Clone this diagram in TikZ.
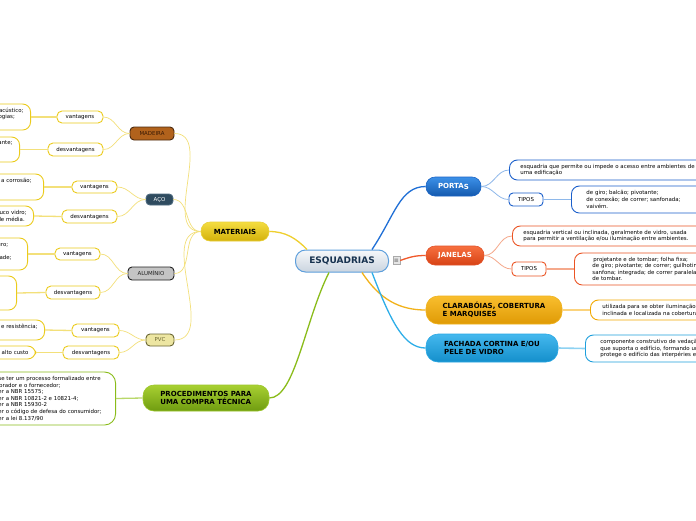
\documentclass[tikz,border=0pt]{standalone}
\usepackage{fontspec}
\setmainfont{DejaVu Sans}
\usetikzlibrary{calc}
\definecolor{ylw}{HTML}{EBCB1C}
\definecolor{ylwline}{HTML}{F3E07A}
\definecolor{blu}{HTML}{1A5FCB}
\definecolor{bluline}{HTML}{8EB8EA}
\definecolor{red}{HTML}{EB5424}
\definecolor{redline}{HTML}{F5A98C}
\definecolor{org}{HTML}{F2A900}
\definecolor{orgline}{HTML}{FBD37C}
\definecolor{cya}{HTML}{1E9FDC}
\definecolor{cyaline}{HTML}{8ED2F2}
\definecolor{grn}{HTML}{8ABC1A}
\definecolor{grnline}{HTML}{B9D86A}
\definecolor{navy}{HTML}{17324F}
\definecolor{cenbd}{HTML}{5E9FDC}
\definecolor{centop}{HTML}{F6F8FA}
\definecolor{cenbot}{HTML}{CAD4DF}
\definecolor{icobd}{HTML}{AAAAAA}
\definecolor{icofill}{HTML}{E6E6E6}
\definecolor{icotxt}{HTML}{555555}
\definecolor{matbd}{HTML}{E9D03A}
\definecolor{mattop}{HTML}{F4DD40}
\definecolor{matbot}{HTML}{D4B10B}
\definecolor{procbd}{HTML}{9CC62A}
\definecolor{proctop}{HTML}{A8D032}
\definecolor{procbot}{HTML}{6F9C10}
\definecolor{porbd}{HTML}{1A63C4}
\definecolor{portop}{HTML}{3C91E8}
\definecolor{porbot}{HTML}{1459AE}
\definecolor{janbd}{HTML}{E2522A}
\definecolor{jantop}{HTML}{F7703F}
\definecolor{janbot}{HTML}{D74215}
\definecolor{clabd}{HTML}{EFB21C}
\definecolor{clatop}{HTML}{F9BE2E}
\definecolor{clabot}{HTML}{DF9A05}
\definecolor{facbd}{HTML}{2AA8E4}
\definecolor{factop}{HTML}{44B8EE}
\definecolor{facbot}{HTML}{148FCB}
\definecolor{cmat}{HTML}{EFCF2E}
\definecolor{cpor}{HTML}{1F6FD6}
\definecolor{cjan}{HTML}{F0582A}
\definecolor{ccla}{HTML}{F2B21A}
\definecolor{cfac}{HTML}{2EAEE8}
\definecolor{madfill}{HTML}{B1621C}
\definecolor{madbd}{HTML}{4A2A10}
\definecolor{madtxt}{HTML}{3A1A05}
\definecolor{acofill}{HTML}{2F4B5F}
\definecolor{acobd}{HTML}{4E6B80}
\definecolor{alufill}{HTML}{C4C4C4}
\definecolor{alubd}{HTML}{222222}
\definecolor{pvcfill}{HTML}{EDE6A2}
\definecolor{pvcbd}{HTML}{6A6632}
\newcommand\tf{\fontsize{5.45}{6.6}\selectfont}
\tikzset{
  topic/.style={rounded corners=9pt, inner sep=2pt, align=left, line width=0.6pt,
    font=\bfseries\fontsize{7}{8}\selectfont},
  lbl/.style={draw=ylw, line width=0.9pt, fill=white, rounded corners=5pt, inner sep=1pt, font=\tf},
  ybox/.style={draw=ylw, line width=0.9pt, fill=white, rounded corners=8pt, inner xsep=7pt, inner ysep=2pt, align=left, font=\tf},
  rbox/.style={line width=0.9pt, fill=white, rounded corners=8pt, inner xsep=11pt, inner ysep=2pt, align=left, font=\tf, anchor=west, text width=260pt},
  mat/.style={rounded corners=4pt, line width=0.9pt, inner sep=1pt, font=\tf},
  ycon/.style={ylwline, line width=0.7pt},
  ycon2/.style={ylwline, line width=1.3pt},
}
\begin{document}
\begin{tikzpicture}[x=1pt,y=-1pt]
\useasboundingbox (0,0) rectangle (696,520);
\clip (0,0) rectangle (696,520);
\fill[white] (0,0) rectangle (696,520);

% ---------- central
\node[rounded corners=10pt, draw=cenbd, line width=1pt, top color=centop, bottom color=cenbot,
  minimum width=93pt, minimum height=22pt, font=\bfseries\fontsize{9}{9}\selectfont, text=navy] (esq) at (342,261) {ESQUADRIAS};
\node[draw=icobd, fill=icofill, line width=0.4pt, minimum width=7pt, minimum height=8pt, inner sep=0pt,
  font=\fontsize{6}{6}\selectfont, text=icotxt] (ico) at (396.5,260.5) {≡};

% ---------- main topics
\node[topic, draw=matbd, top color=mattop, bottom color=matbot, minimum width=68pt, minimum height=19pt, align=center] (mat) at (235,231.5) {MATERIAIS};
\node[topic, draw=procbd, top color=proctop, bottom color=procbot, minimum width=126pt, minimum height=26pt, rounded corners=11pt] (proc) at (206,398) {PROCEDIMENTOS PARA\\UMA COMPRA TÉCNICA};
\node[topic, draw=porbd, top color=portop, bottom color=porbot, minimum width=55pt, minimum height=19pt, text=white, align=center] (por) at (453.5,186.5) {PORTA\raisebox{-0.6pt}{S}};
\node[topic, draw=janbd, top color=jantop, bottom color=janbot, minimum width=58pt, minimum height=19pt, text=white, align=center] (jan) at (455,255.5) {JANELA\raisebox{-0.6pt}{S}};
\node[topic, draw=clabd, top color=clatop, bottom color=clabot, minimum width=136pt, minimum height=28pt, rounded corners=12pt] (cla) at (494,310) {CLARABÓIAS, COBERTURA\\ E MARQUISES};
\node[topic, draw=facbd, top color=factop, bottom color=facbot, minimum width=132pt, minimum height=28pt, rounded corners=12pt] (fac) at (492,348) {FACHADA CORTINA E/OU\\PELE DE VIDRO};

% ---------- central connectors
\draw[cmat, line width=1.3pt] ($(esq.north)+(-35,0)$) .. controls (296,238) and (285,231.5) .. (mat.east);
\draw[grn, line width=1.3pt] ($(esq.south)+(-13,0)$) .. controls (305,320) and (295,398) .. (proc.east);
\draw[cpor, line width=1.3pt] ($(esq.north)+(30,0)$) .. controls (395,215) and (400,186.5) .. (por.west);
\draw[cjan, line width=1.3pt] (ico.east) .. controls (410,257) and (415,255.5) .. (jan.west);
\draw[ccla, line width=1.3pt] ($(esq.south)+(20,0)$) .. controls (380,300) and (400,310) .. (cla.west);
\draw[cfac, line width=1.3pt] ($(esq.south)+(30,0)$) .. controls (392,325) and (405,348) .. (fac.west);

% ---------- materials
\node[mat, fill=madfill, draw=madbd, text=madtxt, minimum width=44pt, minimum height=13pt] (mad) at (152,133.5) {MADEIRA};
\node[mat, fill=acofill, draw=acobd, text=white, minimum width=27pt, minimum height=11pt] (aco) at (159.5,199.5) {AÇO};
\node[mat, fill=alufill, draw=alubd, text=alubd, minimum width=46pt, minimum height=13pt] (alu) at (151,273.5) {ALUMÍNIO};
\node[mat, fill=pvcfill, draw=pvcbd, text=pvcbd, minimum width=28pt, minimum height=12pt] (pvc) at (160,340) {PVC};
\foreach \m in {mad,aco,alu,pvc}{\draw[ycon] (\m.east) to[out=0,in=180] (mat.west);}

% labels
\node[lbl, minimum width=46pt, minimum height=12pt] (madv) at (80,117) {vantagens};
\node[lbl, minimum width=55pt, minimum height=13pt] (madd) at (75.5,149.5) {desvantagens};
\node[lbl, minimum width=45pt, minimum height=12pt] (acov) at (94.5,187) {vantagens};
\node[lbl, minimum width=55pt, minimum height=13pt] (acod) at (89.5,216.5) {desvantagens};
\node[lbl, minimum width=45pt, minimum height=12pt] (aluv) at (77.5,254) {vantagens};
\node[lbl, minimum width=54pt, minimum height=13pt] (alud) at (73,292.5) {desvantagens};
\node[lbl, minimum width=47pt, minimum height=13pt] (pvcv) at (95.5,330.5) {vantagens};
\node[lbl, minimum width=56pt, minimum height=13pt] (pvcd) at (91,352.5) {desvantagens};
\draw[ycon] (madv.east) to[out=0,in=180] (mad.west);
\draw[ycon] (madd.east) to[out=0,in=180] (mad.west);
\draw[ycon] (acov.east) to[out=0,in=180] (aco.west);
\draw[ycon] (acod.east) to[out=0,in=180] (aco.west);
\draw[ycon] (aluv.east) to[out=0,in=180] (alu.west);
\draw[ycon] (alud.east) to[out=0,in=180] (alu.west);
\draw[ycon] (pvcv.east) to[out=0,in=180] (pvc.west);
\draw[ycon] (pvcd.east) to[out=0,in=180] (pvc.west);

% text boxes (left, clipped)
\node[ybox, anchor=east, minimum height=26pt] (madvt) at (31,117) {bom isolante acústico;\\diversas tipologias;\\durável;};
\node[ybox, anchor=east, minimum height=25pt] (maddt) at (20,149.5) {manutenção constante;\\pode empenar;\\cupins;};
\node[ybox, anchor=east, minimum height=26pt, inner xsep=12pt] (acovt) at (44,187) {alta resistência a corrosão;\\de baixo custo;\\durável.};
\node[ybox, anchor=east, minimum height=20pt] (acodt) at (34,216) {suporta pouco vidro;\\durabilidade média.};
\node[ybox, anchor=east, minimum height=32pt, inner xsep=16pt] (aluvt) at (28,254) {material leve, resistente e seguro;\\não enferruja;\\grande durabilidade e estabilidade;\\fácil de encontrar no comércio.};
\node[ybox, anchor=east, minimum height=34pt, minimum width=100pt] (aludt) at (17,293) {preço alto;\\menor isolamento;\\acústico.};
\node[ybox, anchor=east, minimum height=20pt] (pvcvt) at (45,330) {durabilidade e resistência;\\isolante.};
\node[ybox, anchor=east, minimum height=13pt, inner ysep=1pt] (pvcdt) at (36,352.5) {possui alto custo};
\draw[ycon2] (madvt.east) -- (madv.west);
\draw[ycon2] (maddt.east) -- (madd.west);
\draw[ycon2] (acovt.east) -- (acov.west);
\draw[ycon2] (acodt.east) -- (acod.west);
\draw[ycon2] (aluvt.east) -- (aluv.west);
\draw[ycon2] (aludt.east) -- (alud.west);
\draw[ycon2] (pvcvt.east) -- (pvcv.west);
\draw[ycon2] (pvcdt.east) -- (pvcd.west);

% procedures text
\node[draw=grn, line width=0.9pt, fill=white, rounded corners=11pt, inner xsep=14pt, align=left, font=\tf, anchor=east, minimum height=53pt] (proct) at (116,398.5)
  {Deve-se ter um processo formalizado entre\\o comprador e o fornecedor;\\Atender a NBR 15575;\\Atender a NBR 10821-2 e 10821-4;\\Atender a NBR 15930-2\\Atender o código de defesa do consumidor;\\Atender a lei 8.137/90};
\draw[grnline, line width=1.3pt] (proc.west) -- (proct.east);

% ---------- PORTAS children
\node[rbox, draw=blu, minimum height=20pt] (pdesc) at (509,170) {esquadria que permite ou impede o acesso entre ambientes de\\uma edificação};
\node[draw=blu, line width=0.9pt, fill=white, rounded corners=4pt, minimum width=34pt, minimum height=13pt, inner sep=1pt, font=\tf] (ptip) at (526,199.5) {TIPOS};
\node[rbox, draw=blu, minimum height=27pt, inner xsep=15pt] (ptt) at (571,199.5) {de giro; balcão; pivotante;\\de conexão; de correr; sanfonada;\\vaivém.};
\draw[bluline, line width=0.8pt] (por.east) to[out=0,in=180] (pdesc.west);
\draw[bluline, line width=0.8pt] (por.east) to[out=0,in=180] (ptip.west);
\draw[bluline, line width=1.8pt] (ptip.east) -- (ptt.west);

% ---------- JANELAS children
\node[rbox, draw=red, minimum height=20pt] (jdesc) at (512,236) {esquadria vertical ou inclinada, geralmente de vidro, usada\\para permitir a ventilação e/ou iluminação entre ambientes.};
\node[draw=red, line width=0.9pt, fill=white, rounded corners=4pt, minimum width=34pt, minimum height=14pt, inner sep=1pt, font=\tf] (jtip) at (529,269) {TIPOS};
\node[rbox, draw=red, minimum height=32pt, inner xsep=18pt] (jtt) at (574,269) {\hspace*{1pt}projetante e de tombar; folha fixa;\\de giro; pivotante; de correr; guilhotina;\\sanfona; integrada; de correr paralela;\\de tombar.};
\draw[redline, line width=0.8pt] (jan.east) to[out=0,in=180] (jdesc.west);
\draw[redline, line width=0.8pt] (jan.east) to[out=0,in=180] (jtip.west);
\draw[redline, line width=1.8pt] (jtip.east) -- (jtt.west);

% ---------- CLARABOIAS child
\node[rbox, draw=org, minimum height=20pt, inner xsep=12pt] (cdesc) at (590,310) {utilizada para se obter iluminação\\inclinada e localizada na cobertura};
\draw[orgline, line width=1.6pt] (cla.east) -- (cdesc.west);

% ---------- FACHADA child
\node[rbox, draw=cya, minimum height=27pt, inner xsep=15pt] (fdesc) at (585,348.5) {componente construtivo de vedação\\que suporta o edifício, formando um\\protege o edifício das interpéries e};
\draw[cyaline, line width=1.6pt] (fac.east) -- (fdesc.west);
\end{tikzpicture}
\end{document}
